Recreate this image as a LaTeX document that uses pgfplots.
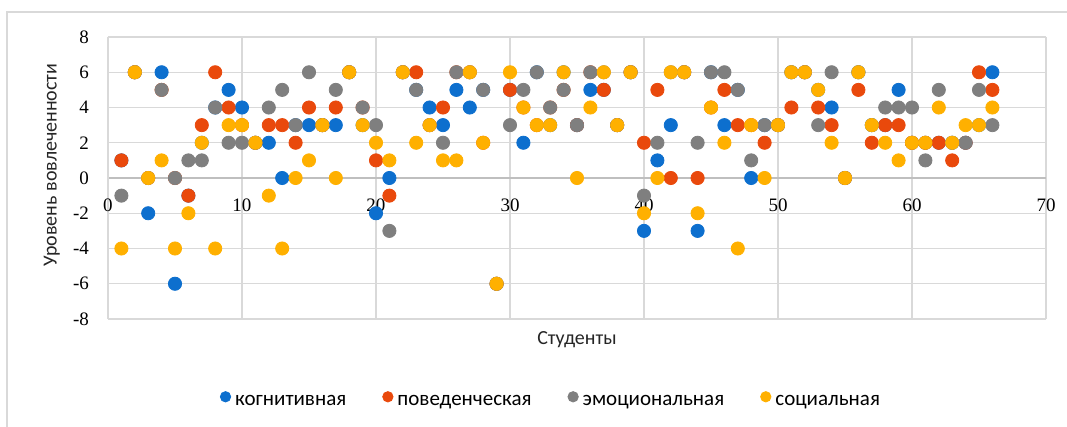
\documentclass[border=0pt]{standalone}
\usepackage{pgfplots}
\pgfplotsset{compat=1.18}
\usepackage{pgfplotstable}
\usepackage{fontspec}
\setmainfont{Carlito}
\newfontfamily\tickfont{Liberation Serif}
\newcommand\tickfontsz{\tickfont\fontsize{9.5}{10}\selectfont}
\definecolor{cblue}{HTML}{0D6FCE}
\definecolor{cred}{HTML}{E9490C}
\definecolor{cgray}{HTML}{7F7F7F}
\definecolor{cgold}{HTML}{FFB000}
\definecolor{gridgray}{HTML}{D9D9D9}
\definecolor{axisgray}{HTML}{BFBFBF}
\definecolor{framegray}{HTML}{D9D9D9}
\pgfplotstableread{
x cog beh emo soc
1 1 1 -1 -4
2 6 6 6 6
3 -2 0 0 0
4 6 5 5 1
5 -6 0 0 -4
6 -1 -1 1 -2
7 2 3 1 2
8 4 6 4 -4
9 5 4 2 3
10 4 3 2 3
11 2 2 2 2
12 2 3 4 -1
13 0 3 5 -4
14 3 2 3 0
15 3 4 6 1
16 3 3 3 3
17 3 4 5 0
18 6 6 6 6
19 3 4 4 3
20 -2 1 3 2
21 0 -1 -3 1
22 6 6 6 6
23 5 6 5 2
24 4 3 3 3
25 3 4 2 1
26 5 6 6 1
27 4 6 6 6
28 5 2 5 2
29 -6 -6 -6 -6
30 5 5 3 6
31 2 4 5 4
32 6 3 6 3
33 3 4 4 3
34 6 5 5 6
35 3 3 3 0
36 5 6 6 4
37 5 5 6 6
38 3 3 3 3
39 6 6 6 6
40 -3 2 -1 -2
41 1 5 2 0
42 3 0 6 6
43 6 6 6 6
44 -3 0 2 -2
45 6 4 6 4
46 3 5 6 2
47 5 3 5 -4
48 0 3 1 3
49 3 2 3 0
50 3 3 3 3
51 6 4 6 6
52 6 6 6 6
53 5 4 3 5
54 4 3 6 2
55 0 0 0 0
56 6 5 6 6
57 3 2 3 3
58 3 3 4 2
59 5 3 4 1
60 2 2 4 2
61 2 2 1 2
62 2 2 5 4
63 2 1 2 2
64 2 2 2 3
65 3 6 5 3
66 6 5 3 4
}\data
\begin{document}
\begin{tikzpicture}
\useasboundingbox (-54pt,-54pt) rectangle (479.5pt,159.5pt);
\draw[color=framegray, line width=0.9pt] (-50.5pt,-54pt) -- (-50.5pt,153.5pt) -- (479.5pt,153.5pt);
\begin{axis}[
 at={(0,0)}, anchor=south west,
 scale only axis, width=469pt, height=141pt,
 xmin=0, xmax=70, ymin=-8, ymax=8,
 xtick={0,10,...,70}, ytick={-8,-6,...,8},
 axis x line=middle, axis y line=left,
 hide obscured x ticks=false,
 axis line style={-},
 x axis line style={draw=axisgray, line width=0.8pt},
 y axis line style={draw=gridgray, line width=0.6pt},
 grid=major, major grid style={draw=gridgray, line width=0.6pt},
 major tick length=0pt,
 /pgf/number format/assume math mode=true,
 xticklabel style={font=\tickfontsz, anchor=north, yshift=-7pt},
 yticklabel style={font=\tickfontsz, anchor=east, xshift=-6pt},
 xticklabel={\tickfontsz\pgfmathprintnumber{\tick}},
 yticklabel={\tickfontsz\pgfmathprintnumber{\tick}},
 xlabel={Студенты}, ylabel={Уровень вовлеченности},
 xlabel style={at={(axis description cs:0.5,-0.075)}, anchor=center, font=\fontsize{10}{12}\selectfont, text=black!85},
 ylabel style={at={(axis description cs:-0.06,0.546)}, anchor=center, font=\fontsize{10}{12}\selectfont, text=black!85},
 legend style={at={(axis description cs:0.4733,-0.294)}, anchor=center, draw=none, fill=none, inner sep=0pt,
   legend columns=4, font=\fontsize{10.5}{12}\selectfont,
   /tikz/every even column/.append style={column sep=16pt}},
 legend image code/.code={\fill[#1] (0.12cm,0.55ex) circle (2.6pt);},
]
\addplot[only marks, mark=*, mark size=3.3pt, color=cblue] table[x=x,y=cog]{\data};
\addlegendentry{когнитивная}
\addplot[only marks, mark=*, mark size=3.3pt, color=cred] table[x=x,y=beh]{\data};
\addlegendentry{поведенческая}
\addplot[only marks, mark=*, mark size=3.3pt, color=cgray] table[x=x,y=emo]{\data};
\addlegendentry{эмоциональная}
\addplot[only marks, mark=*, mark size=3.3pt, color=cgold] table[x=x,y=soc]{\data};
\addlegendentry{социальная}
\end{axis}
\end{tikzpicture}
\end{document}
